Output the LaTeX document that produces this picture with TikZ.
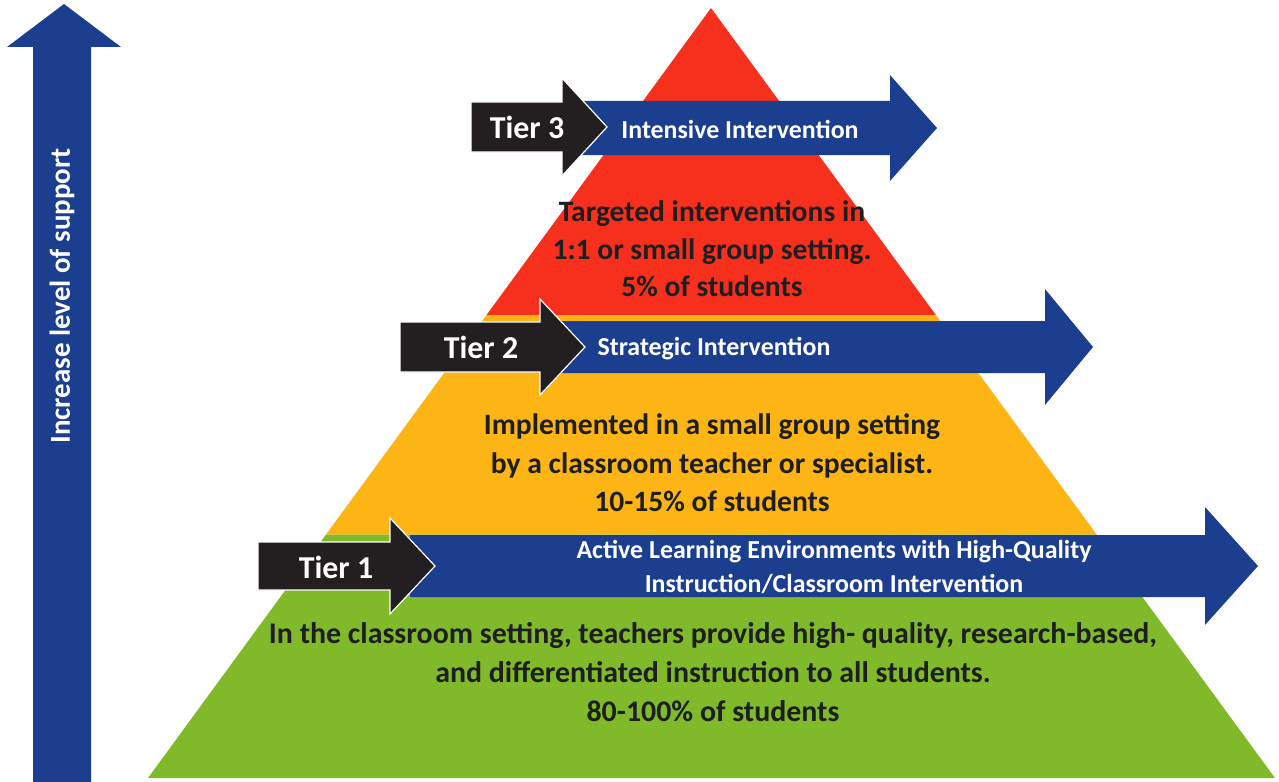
\documentclass[tikz,border=0pt]{standalone}
\usepackage{fontspec}
\setmainfont{Carlito}
\usetikzlibrary{positioning,calc}
\definecolor{ctop}{HTML}{F7301E}
\definecolor{cmid}{HTML}{FDB515}
\definecolor{cbase}{HTML}{80BA2A}
\definecolor{cband}{HTML}{1B3F8E}
\definecolor{ctag}{HTML}{231F20}
\definecolor{ctext}{HTML}{1E1E1E}
% flat arrow: style, x left, x head base, x tip, y mid, half body, half head
\newcommand{\flatarrow}[7]{%
  \fill[#1] (#2,#5-#6) -- (#3,#5-#6) -- (#3,#5-#7) -- (#4,#5)
    -- (#3,#5+#7) -- (#3,#5+#6) -- (#2,#5+#6) -- cycle;}
\tikzset{
  tagarrow/.style={fill=ctag, draw=white, line width=1.2pt, line join=miter},
  bandarrow/.style={fill=cband},
  tagtext/.style={text=white, font=\bfseries\fontsize{32}{36}\selectfont,
    inner sep=0pt, text height=21bp, text depth=0pt},
  bandtext/.style={text=white, font=\bfseries\fontsize{26}{34}\selectfont,
    align=center, inner sep=0pt},
  tiertext/.style={text=ctext, font=\bfseries\fontsize{29.7}{38.5}\selectfont,
    align=center, inner sep=0pt},
}

\begin{document}
\begin{tikzpicture}[x=1bp, y=-1bp]
  \useasboundingbox[fill=white] (0,0) rectangle (1279,782);

  % pyramid
  \coordinate (apex) at (711,8);
  \coordinate (bl) at (148,778);
  \coordinate (br) at (1275,778);
  \coordinate (l3) at ($(apex)!0.399!(bl)$);
  \coordinate (r3) at ($(apex)!0.399!(br)$);
  \coordinate (l2) at ($(apex)!0.684!(bl)$);
  \coordinate (r2) at ($(apex)!0.684!(br)$);
  \fill[ctop] (apex) -- (l3) -- (r3) -- cycle;
  \fill[cmid] (l3) -- (l2) -- (r2) -- (r3) -- cycle;
  \fill[cbase] (l2) -- (bl) -- (br) -- (r2) -- cycle;

  % level of support
  \fill[bandarrow] (33,782) -- (33,47) -- (7,47) -- (64,4) -- (121,47)
    -- (91,47) -- (91,782) -- cycle;
  \node[text=white, rotate=90, font=\bfseries\fontsize{29}{34}\selectfont, inner sep=0pt]
    (support) at (62,296) {Increase level of support};

  % tier arrows
  \flatarrow{bandarrow}{580}{890}{937}{128}{27}{53}
  \flatarrow{tagarrow}{471}{562}{607}{127}{25}{49}
  \flatarrow{bandarrow}{560}{1045}{1093}{347}{26}{58}
  \flatarrow{tagarrow}{400}{540}{585}{347}{25}{48}
  \flatarrow{bandarrow}{410}{1205}{1258}{566}{31}{59}
  \flatarrow{tagarrow}{258}{390}{435}{566}{24}{48}

  \node[tagtext] (tier3) at (527,128) {Tier 3};
  \node[tagtext] (tier2) at (481,348) {Tier 2};
  \node[tagtext] (tier1) at (336,568) {Tier 1};
  \node[bandtext] (band3) at (740,129) {Intensive Intervention};
  \node[bandtext] (band2) at (714,349) {Strategic Intervention};
  \node[bandtext] (band1) at (834,567)
    {Active Learning Environments with High-Quality\\Instruction/Classroom Intervention};

  % tier descriptions
  \node[tiertext, font=\bfseries\fontsize{29.7}{37.5}\selectfont] (desc3) at (712,249)
    {Targeted interventions in\\1:1 or small group setting.\\5\% of students};
  \node[tiertext] (desc2) at (712,463)
    {Implemented in a small group setting\\by a classroom teacher or specialist.\\10-15\% of students};
  \node[tiertext, font=\bfseries\fontsize{30}{39}\selectfont] (desc1) at (713,672)
    {In the classroom setting, teachers provide high- quality, research-based,\\
     and differentiated instruction to all students.\\80-100\% of students};
\end{tikzpicture}
\end{document}
